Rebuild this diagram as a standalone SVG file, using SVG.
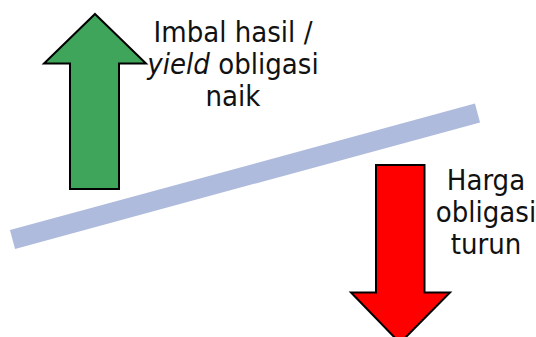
<svg xmlns="http://www.w3.org/2000/svg" width="536" height="337" viewBox="0 0 536 337">
<style>
.lbl{font-family:"DejaVu Sans Condensed","DejaVu Sans",sans-serif;font-stretch:condensed;font-size:29px;fill:#111;text-anchor:middle}
.arrow{stroke:#000;stroke-width:2;stroke-linejoin:miter}
</style>
<rect width="536" height="337" fill="#fff"/>
<g id="lever">
<line x1="12.5" y1="239.5" x2="477.5" y2="113" stroke="#aebbdc" stroke-width="19.5"/>
</g>
<g id="arrow-up">
<polygon class="arrow" fill="#3fa55a" points="95,14 146,63.5 119,63.5 119,189 70,189 70,63.5 44,63.5"/>
</g>
<g id="arrow-down">
<polygon class="arrow" fill="#ff0000" points="376,165 424.5,165 424.5,292.5 450,292.5 400,343 351,292.5 376,292.5"/>
</g>
<g id="label-yield">
<text class="lbl" x="233" y="41.5">Imbal hasil /</text>
<text class="lbl" x="233" y="73.5"><tspan font-style="italic">yield</tspan> obligasi</text>
<text class="lbl" x="233" y="105.5">naik</text>
</g>
<g id="label-price">
<text class="lbl" x="486" y="189.5">Harga</text>
<text class="lbl" x="486" y="221.5">obligasi</text>
<text class="lbl" x="486" y="254">turun</text>
</g>
</svg>
